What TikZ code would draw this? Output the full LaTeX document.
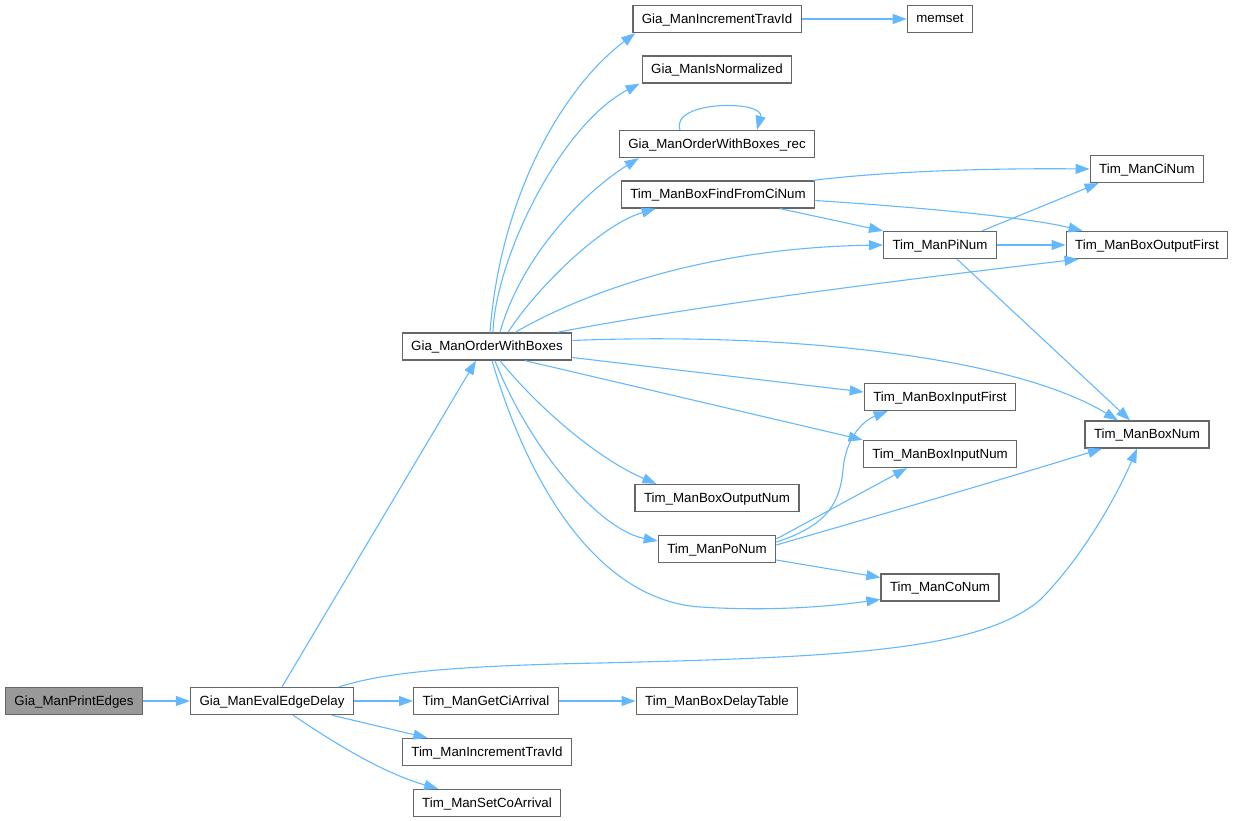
\documentclass[tikz,border=0pt]{standalone}
\usepackage{fontspec}
\setmainfont{Liberation Sans}
\usepackage{tikz}
\usetikzlibrary{arrows.meta,positioning,calc}
\definecolor{edgeblue}{RGB}{99,184,255}
\definecolor{boxgray}{RGB}{102,102,102}
\definecolor{rootgray}{RGB}{153,153,153}

\begin{document}
\begin{tikzpicture}[x=1pt,y=-1pt,
    fn/.style={draw=boxgray, line width=1.3pt, fill=white, minimum height=27pt,
        inner xsep=9pt, inner ysep=0pt, text depth=1pt, font=\fontsize{13.3}{15}\selectfont},
    root/.style={fn, fill=rootgray},
    call/.style={draw=edgeblue, line width=1.1pt, -{Triangle[length=14pt,width=10pt]}}]
    \useasboundingbox (0,0) rectangle (1235,821);

    \node[root] (pe) at (74,701) {Gia\_ManPrintEdges};
    \node[fn] (eed) at (272,701) {Gia\_ManEvalEdgeDelay};
    \node[fn] (ow) at (487,346.5) {Gia\_ManOrderWithBoxes};
    \node[fn] (gca) at (486,701) {Tim\_ManGetCiArrival};
    \node[fn] (tit) at (487,752) {Tim\_ManIncrementTravId};
    \node[fn] (sca) at (487,803) {Tim\_ManSetCoArrival};
    \node[fn] (bdt) at (717,701) {Tim\_ManBoxDelayTable};
    \node[fn] (git) at (717,19) {Gia\_ManIncrementTravId};
    \node[fn] (mem) at (940,19) {memset};
    \node[fn] (isn) at (717,69.5) {Gia\_ManIsNormalized};
    \node[fn] (owr) at (717,144) {Gia\_ManOrderWithBoxes\_rec};
    \node[fn] (bff) at (718,194.5) {Tim\_ManBoxFindFromCiNum};
    \node[fn] (cin) at (1147,169) {Tim\_ManCiNum};
    \node[fn] (pin) at (940,245) {Tim\_ManPiNum};
    \node[fn] (bof) at (1147,245) {Tim\_ManBoxOutputFirst};
    \node[fn] (bif) at (940,397) {Tim\_ManBoxInputFirst};
    \node[fn] (bin) at (940,454) {Tim\_ManBoxInputNum};
    \node[fn] (bnm) at (1147,434.5) {Tim\_ManBoxNum};
    \node[fn] (bon) at (717,498) {Tim\_ManBoxOutputNum};
    \node[fn] (pon) at (717,549) {Tim\_ManPoNum};
    \node[fn] (con) at (940,587.5) {Tim\_ManCoNum};

    \draw[call] (pe) -- (eed);
    \draw[call] ([xshift=10pt]eed.north) -- ([xshift=-11pt]ow.south);
    \draw[call] ([xshift=67pt]eed.north) .. controls (380,674) and (440,666) .. (600,663)
        .. controls (850,657) and (980,650) .. (1040,600)
        .. controls (1080,560) and (1115,500) .. ([xshift=-10pt]bnm.south);
    \draw[call] (eed) -- (gca);
    \draw[call] (eed) -- (tit);
    \draw[call] (eed) .. controls (330,740) and (380,772) .. (sca);
    \draw[call] (gca) -- (bdt);

    \draw[call] ([xshift=3pt]ow.north) .. controls (500,200) and (560,90) .. ([xshift=3pt]git.south west);
    \draw[call] ([xshift=6pt]ow.north) .. controls (495,260) and (560,125) .. ([xshift=-2pt]isn.south west);
    \draw[call] ([xshift=13pt]ow.north) .. controls (520,260) and (580,195) .. ([xshift=20pt]owr.south west);
    \draw[call] ([xshift=21pt]ow.north) .. controls (535,290) and (600,225) .. ([xshift=35pt]bff.south west);
    \draw[call] ([xshift=28pt]ow.north) .. controls (580,295) and (700,248) .. (pin.west);
    \draw[call] ([xshift=70pt]ow.north) .. controls (700,305) and (900,280) .. ([xshift=13pt]bof.south west);
    \draw[call] ([yshift=6pt]ow.east) .. controls (780,332) and (1010,355) .. ([xshift=-29pt]bnm.north);
    \draw[call] ([yshift=-11pt]ow.east) -- ([yshift=5pt]bif.west);
    \draw[call] ([xshift=38pt]ow.south) -- (bin.north west);
    \draw[call] ([xshift=13pt]ow.south) .. controls (540,410) and (600,460) .. ([xshift=22pt]bon.north west);
    \draw[call] ([xshift=8pt]ow.south) .. controls (530,450) and (600,530) .. ([yshift=8pt]pon.west);
    \draw[call] ([xshift=5pt]ow.south) .. controls (530,490) and (600,600) .. (700,607)
        .. controls (780,612) and (840,605) .. ([yshift=-12pt]con.west);

    \draw[call] (git) -- (mem);
    \draw[call] ([xshift=-37pt]owr.north) .. controls (670,100) and (765,100) .. ([xshift=40pt]owr.north);

    \draw[call] ([xshift=-2pt]bff.north east) .. controls (880,172) and (980,168) .. (cin.west);
    \draw[call] ([xshift=62pt]bff.south) -- (pin.north west);
    \draw[call] ([yshift=-6pt]bff.east) .. controls (930,208) and (1030,218) .. ([xshift=17pt]bof.north west);

    \draw[call] ([xshift=42pt]pin.north) -- ([xshift=9pt]cin.south west);
    \draw[call] (pin) -- (bof);
    \draw[call] ([xshift=17pt]pin.south) -- ([xshift=-17pt]bnm.north);

    \draw[call] ([yshift=7pt]pon.east) .. controls (830,525) and (840,500) .. (843,470)
        .. controls (846,435) and (865,420) .. ([xshift=24pt]bif.south west);
    \draw[call] ([yshift=10pt]pon.east) -- ([xshift=-33pt]bin.south);
    \draw[call] ([yshift=4pt]pon.east) .. controls (880,515) and (1000,480) .. ([xshift=-45pt]bnm.south);
    \draw[call] ([yshift=-11pt]pon.east) -- ([yshift=10pt]con.west);
\end{tikzpicture}
\end{document}
